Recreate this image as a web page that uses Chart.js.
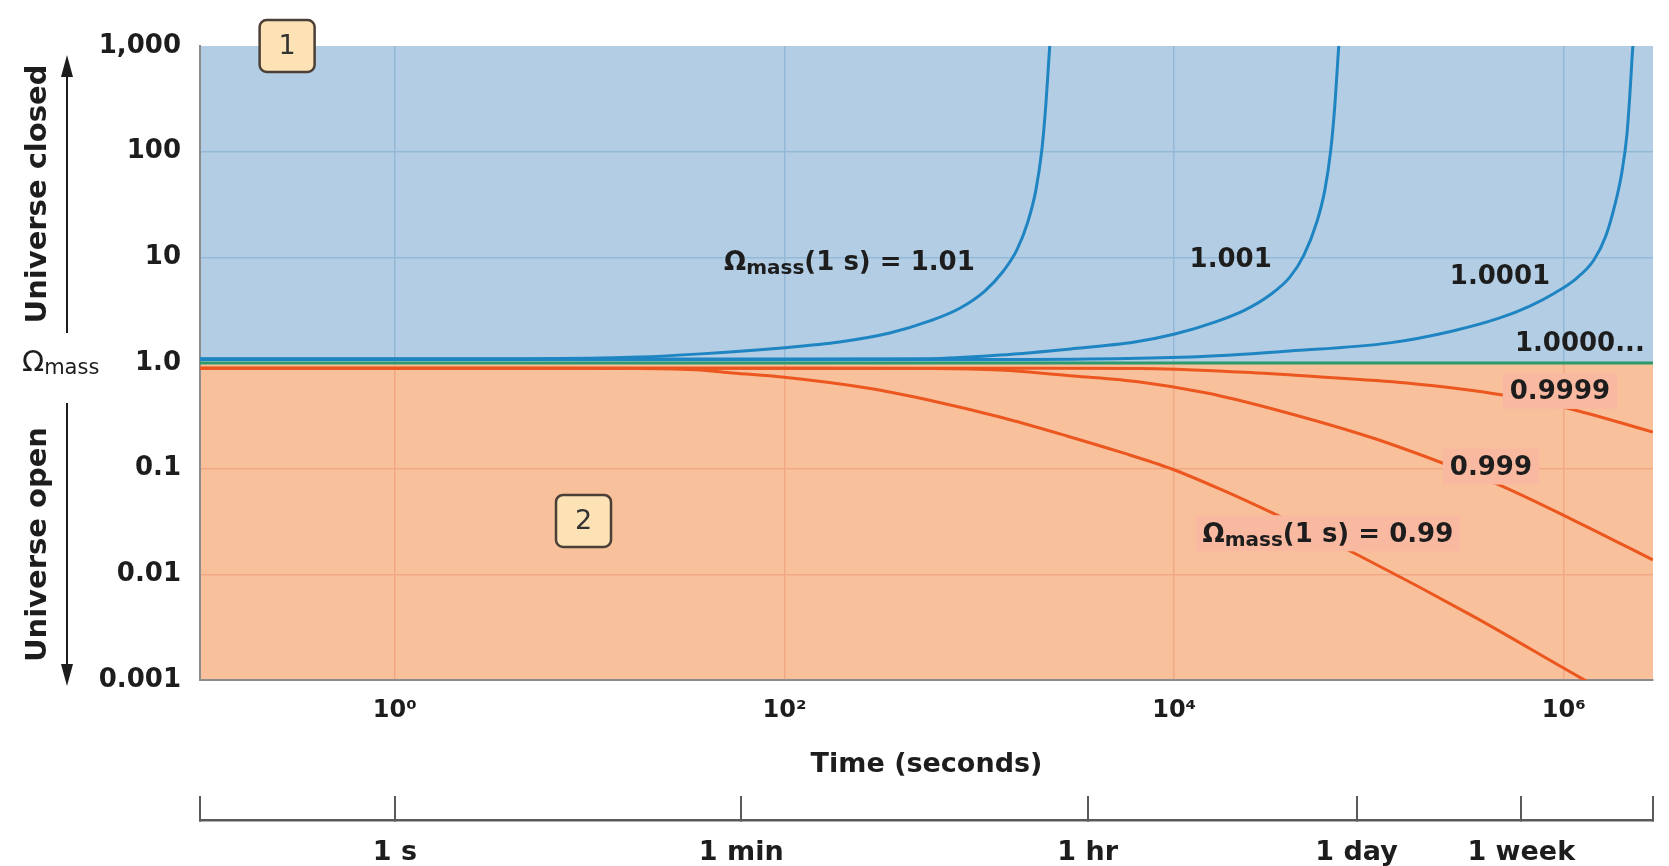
<!DOCTYPE html>
<html>
<head>
<meta charset="utf-8">
<script src="https://cdn.jsdelivr.net/npm/chart.js@4.4.1/dist/chart.umd.min.js"></script>
<style>
    html, body { margin: 0; padding: 0; background: #fff; }
    canvas { display: block; }
</style>
</head>
<body>
<canvas id="omegaChart" width="1669" height="866"></canvas>
<script>
// time range shown (seconds)
const timeMin = 0.1;
const timeMax = 2.87e6;

// decade ticks of the time axis
const decadeTicks = [1, 100, 1e4, 1e6];
const decadeLabels = ['10⁰', '10²', '10⁴', '10⁶'];

// everyday units under the chart
const clockTicks = [0.1, 1, 60, 3600, 86400, 604800, 2.87e6];
const clockLabels = ['', '1 s', '1 min', '1 hr', '1 day', '1 week', ''];

// omega axis
const omegaTicks = [0.001, 0.01, 0.1, 1, 10, 100, 1000];
const omegaLabels = ['0.001', '0.01', '0.1', '1.0', '10', '100', '1,000'];

// closed universe, Ω(1 s) = 1.01
const closed101Time = [0.1, 1, 5, 18, 37, 97, 192, 347, 557, 794, 1067, 1320, 1557, 1774, 1950, 2094, 2195, 2274, 2329];
const closed101Omega = [1.1, 1.1, 1.1, 1.14, 1.22, 1.39, 1.58, 1.92, 2.5, 3.3, 4.8, 7.3, 11.7, 21.6, 43, 104, 276, 740, 1420];

// closed universe, Ω(1 s) = 1.001
const closed1001Time = [0.1, 100, 551, 1274, 2950, 6280, 10080, 16170, 23060, 31000, 39260, 46350, 54000, 59330, 63680, 66830, 69200, 70860];
const closed1001Omega = [1.09, 1.09, 1.1, 1.19, 1.36, 1.58, 1.88, 2.44, 3.17, 4.4, 6.5, 10.5, 21.6, 43, 104, 276, 737, 1420];

// closed universe, Ω(1 s) = 1.0001
const closed10001Time = [0.1, 1000, 12030, 39260, 127900, 269400, 469500, 669500, 899500, 1.167e6, 1.427e6, 1.643e6, 1.829e6, 1.987e6, 2.108e6, 2.183e6, 2.237e6, 2.291e6];
const closed10001Omega = [1.08, 1.08, 1.14, 1.3, 1.55, 2.01, 2.67, 3.46, 4.6, 6.37, 9.44, 15.9, 31.3, 64, 144, 344, 735, 1420];

// open universe, Ω(1 s) = 0.99
const open099Time = [0.1, 1, 5, 18, 37, 54, 97, 265, 577, 1274, 2813, 5263, 9730, 17150, 32110, 89800, 341600, 1.208e6, 1.94e6];
const open099Omega = [0.89, 0.89, 0.89, 0.887, 0.859, 0.804, 0.737, 0.58, 0.437, 0.308, 0.204, 0.144, 0.0993, 0.0643, 0.0379, 0.0149, 0.00402, 0.00106, 0.00065];

// open universe, Ω(1 s) = 0.999
const open0999Time = [0.1, 100, 570, 1274, 3055, 6670, 14720, 32110, 104700, 231300, 453000, 1.112e6, 2.864e6];
const open0999Omega = [0.89, 0.89, 0.887, 0.859, 0.753, 0.661, 0.52, 0.367, 0.195, 0.1157, 0.0717, 0.0328, 0.0137];

// open universe, Ω(1 s) = 0.9999
const open09999Time = [0.1, 1000, 6670, 21720, 47980, 156400, 486400, 1.036e6, 2.864e6];
const open09999Omega = [0.89, 0.89, 0.887, 0.822, 0.753, 0.647, 0.498, 0.375, 0.222];

// critical density, Ω = 1.0000...
const flatTime = [0.1, 2.87e6];
const flatOmega = [1, 1];

const COLORS = {
    closedBg: '#b3cee4',
    openBg: '#f9c09c',
    closedGrid: '#94b9d7',
    openGrid: '#f0a983',
    closedLine: '#1f85c2',
    openLine: '#ec561f',
    flatLine: '#2e9a6c',
    text: '#1d1d1d',
    frame: '#8c8c8c',
    clock: '#5a5a5a',
    patch: '#f9b9a1',
    tagFill: '#fde2b6',
    tagEdge: '#4b4037'
};
const FONT = '"DejaVu Sans", sans-serif';

Chart.defaults.font.family = FONT;
Chart.defaults.color = COLORS.text;

const series = [
    { t: closed101Time, o: closed101Omega, color: COLORS.closedLine },
    { t: closed1001Time, o: closed1001Omega, color: COLORS.closedLine },
    { t: closed10001Time, o: closed10001Omega, color: COLORS.closedLine },
    { t: open099Time, o: open099Omega, color: COLORS.openLine },
    { t: open0999Time, o: open0999Omega, color: COLORS.openLine },
    { t: open09999Time, o: open09999Omega, color: COLORS.openLine },
    { t: flatTime, o: flatOmega, color: COLORS.flatLine }
];

const datasets = series.map((s) => ({
    data: s.t.map((t, i) => ({ x: t, y: s.o[i] })),
    showLine: true,
    borderColor: s.color,
    borderWidth: 3,
    pointRadius: 0,
    cubicInterpolationMode: 'monotone',
    fill: false,
    clip: 0
}));

// vertical grid lines change colour where the background does
function splitGridColor(context) {
    const chart = context.chart;
    const area = chart.chartArea;
    if (!area || !chart.scales.y) {
        return COLORS.closedGrid;
    }
    const split = chart.scales.y.getPixelForValue(1);
    const stop = (split - area.top) / (area.bottom - area.top);
    const g = chart.ctx.createLinearGradient(0, area.top, 0, area.bottom);
    g.addColorStop(0, COLORS.closedGrid);
    g.addColorStop(stop, COLORS.closedGrid);
    g.addColorStop(stop, COLORS.openGrid);
    g.addColorStop(1, COLORS.openGrid);
    return g;
}

function omegaGridColor(context) {
    const v = context.tick ? context.tick.value : 1;
    if (v >= 1000) {
        return 'rgba(0,0,0,0)';
    }
    return v >= 1 ? COLORS.closedGrid : COLORS.openGrid;
}

// Ω with "mass" subscript followed by the rest of the label
function omegaTextWidth(ctx, tail, size) {
    ctx.font = `bold ${size}px ${FONT}`;
    let w = ctx.measureText('Ω').width + ctx.measureText(tail).width;
    ctx.font = `bold ${Math.round(size * 0.78)}px ${FONT}`;
    return w + ctx.measureText('mass').width;
}

function drawOmegaText(ctx, left, middle, tail, size) {
    const base = middle + size * 0.365;
    ctx.textAlign = 'left';
    ctx.textBaseline = 'alphabetic';
    ctx.font = `bold ${size}px ${FONT}`;
    ctx.fillText('Ω', left, base);
    let cx = left + ctx.measureText('Ω').width;
    ctx.font = `bold ${Math.round(size * 0.78)}px ${FONT}`;
    ctx.fillText('mass', cx, base + 4);
    cx += ctx.measureText('mass').width;
    ctx.font = `bold ${size}px ${FONT}`;
    ctx.fillText(tail, cx, base);
}

function drawTag(ctx, cx, cy, label) {
    const w = 55, h = 52, r = 7;
    const x0 = cx - w / 2, y0 = cy - h / 2;
    ctx.beginPath();
    ctx.moveTo(x0 + r, y0);
    ctx.arcTo(x0 + w, y0, x0 + w, y0 + h, r);
    ctx.arcTo(x0 + w, y0 + h, x0, y0 + h, r);
    ctx.arcTo(x0, y0 + h, x0, y0, r);
    ctx.arcTo(x0, y0, x0 + w, y0, r);
    ctx.closePath();
    ctx.fillStyle = COLORS.tagFill;
    ctx.fill();
    ctx.lineWidth = 2.5;
    ctx.strokeStyle = COLORS.tagEdge;
    ctx.stroke();
    ctx.fillStyle = '#333';
    ctx.font = `27px ${FONT}`;
    ctx.textAlign = 'center';
    ctx.textBaseline = 'middle';
    ctx.fillText(label, cx, cy + 1);
}

function drawArrow(ctx, x, from, to) {
    const dir = to < from ? -1 : 1;
    ctx.beginPath();
    ctx.moveTo(x, from);
    ctx.lineTo(x, to - dir * 18);
    ctx.lineWidth = 2;
    ctx.stroke();
    ctx.beginPath();
    ctx.moveTo(x, to);
    ctx.lineTo(x - 6, to - dir * 22);
    ctx.lineTo(x + 6, to - dir * 22);
    ctx.closePath();
    ctx.fill();
}

const regionPlugin = {
    id: 'regions',
    beforeDraw(chart) {
        const { ctx, chartArea: a, scales: { y } } = chart;
        const split = y.getPixelForValue(1);
        ctx.save();
        ctx.fillStyle = COLORS.closedBg;
        ctx.fillRect(a.left, a.top, a.right - a.left, split - a.top);
        ctx.fillStyle = COLORS.openBg;
        ctx.fillRect(a.left, split, a.right - a.left, a.bottom - split);
        ctx.restore();
    }
};

const labelPlugin = {
    id: 'curveLabels',
    afterDatasetsDraw(chart) {
        const { ctx, scales: { x, y } } = chart;
        const size = 26;
        const labels = [
            { omega: true, text: '(1 s) = 1.01', t: 49, o: 9.4 },
            { text: '1.001', t: 12000, o: 10 },
            { text: '1.0001', t: 260000, o: 6.9 },
            { text: '1.0000...', t: 561000, o: 1.61 },
            { text: '0.9999', t: 528000, o: 0.556, patch: true },
            { text: '0.999', t: 260000, o: 0.107, patch: true },
            { omega: true, text: '(1 s) = 0.99', t: 14000, o: 0.025, patch: true }
        ];

        ctx.save();
        labels.forEach((lab) => {
            const left = x.getPixelForValue(lab.t);
            const mid = y.getPixelForValue(lab.o);
            ctx.font = `bold ${size}px ${FONT}`;
            const w = lab.omega ? omegaTextWidth(ctx, lab.text, size) : ctx.measureText(lab.text).width;

            if (lab.patch) {
                ctx.fillStyle = COLORS.patch;
                ctx.fillRect(left - 7, mid - 17, w + 14, 36);
            }

            ctx.fillStyle = COLORS.text;
            if (lab.omega) {
                drawOmegaText(ctx, left, mid, lab.text, size);
            } else {
                ctx.textAlign = 'left';
                ctx.textBaseline = 'alphabetic';
                ctx.font = `bold ${size}px ${FONT}`;
                ctx.fillText(lab.text, left, mid + size * 0.365);
            }
        });

        drawTag(ctx, x.getPixelForValue(0.28), y.getPixelForValue(1000), '1');
        drawTag(ctx, x.getPixelForValue(9.3), y.getPixelForValue(0.032), '2');
        ctx.restore();
    }
};

const sidePlugin = {
    id: 'sideCaptions',
    afterDraw(chart) {
        const { ctx, chartArea: a, scales: { y } } = chart;
        const one = y.getPixelForValue(1);
        const arrowX = 67;
        const textX = 38;

        ctx.save();
        ctx.fillStyle = COLORS.text;
        ctx.strokeStyle = COLORS.text;

        const upTail = one - 30, upTip = a.top + 9;
        const downTail = one + 40, downTip = a.bottom + 6;
        drawArrow(ctx, arrowX, upTail, upTip);
        drawArrow(ctx, arrowX, downTail, downTip);

        ctx.font = `bold 29px ${FONT}`;
        ctx.textAlign = 'center';
        ctx.textBaseline = 'middle';
        [['Universe closed', (upTail + upTip) / 2], ['Universe open', (downTail + downTip) / 2]].forEach(([txt, cy]) => {
            ctx.save();
            ctx.translate(textX, cy);
            ctx.rotate(-Math.PI / 2);
            ctx.fillText(txt, 0, 0);
            ctx.restore();
        });

        ctx.textAlign = 'left';
        ctx.textBaseline = 'alphabetic';
        ctx.font = `29px ${FONT}`;
        ctx.fillText('Ω', 22, one + 8);
        const ow = ctx.measureText('Ω').width;
        ctx.font = `21px ${FONT}`;
        ctx.fillText('mass', 22 + ow, one + 11);
        ctx.restore();
    }
};

new Chart(document.getElementById('omegaChart'), {
    type: 'scatter',
    data: { datasets: datasets },
    plugins: [regionPlugin, labelPlugin, sidePlugin],
    options: {
        responsive: false,
        animation: false,
        devicePixelRatio: 1,
        layout: { padding: { top: 46, right: 16, left: 0, bottom: 0 } },
        plugins: {
            legend: { display: false },
            tooltip: { enabled: false }
        },
        scales: {
            x: {
                type: 'logarithmic',
                position: 'bottom',
                weight: 0,
                min: timeMin,
                max: timeMax,
                afterBuildTicks: (s) => { s.ticks = decadeTicks.map((v) => ({ value: v })); },
                afterFit: (s) => { s.height = 140; s.paddingLeft = 0; s.paddingRight = 0; },
                ticks: {
                    callback: (v, i) => decadeLabels[i],
                    autoSkip: false,
                    maxRotation: 0,
                    padding: 16,
                    font: { size: 24, weight: 'bold' }
                },
                grid: { color: splitGridColor, lineWidth: 1.5, drawTicks: false },
                border: { display: true, color: COLORS.frame, width: 2 },
                title: {
                    display: true,
                    text: 'Time (seconds)',
                    font: { size: 27, weight: 'bold' },
                    padding: { top: 3, bottom: 39 }
                }
            },
            clock: {
                type: 'logarithmic',
                position: 'bottom',
                weight: 1,
                min: timeMin,
                max: timeMax,
                afterBuildTicks: (s) => { s.ticks = clockTicks.map((v) => ({ value: v })); },
                afterFit: (s) => { s.height = 46; s.paddingLeft = 0; s.paddingRight = 0; },
                ticks: {
                    callback: (v, i) => clockLabels[i],
                    autoSkip: false,
                    maxRotation: 0,
                    padding: 41,
                    font: { size: 27, weight: 'bold' }
                },
                grid: { drawOnChartArea: false, drawTicks: true, tickLength: -24, color: COLORS.clock, lineWidth: 2 },
                border: { display: true, color: COLORS.clock, width: 2.5 }
            },
            y: {
                type: 'logarithmic',
                min: 0.001,
                max: 1000,
                afterBuildTicks: (s) => { s.ticks = omegaTicks.map((v) => ({ value: v })); },
                afterFit: (s) => { s.width = 200; },
                ticks: {
                    callback: (v, i) => omegaLabels[i],
                    autoSkip: false,
                    padding: 19,
                    font: { size: 26, weight: 'bold' }
                },
                grid: { color: omegaGridColor, lineWidth: 1.5, drawTicks: false },
                border: { display: true, color: COLORS.frame, width: 2 }
            }
        }
    }
});
</script>
</body>
</html>
